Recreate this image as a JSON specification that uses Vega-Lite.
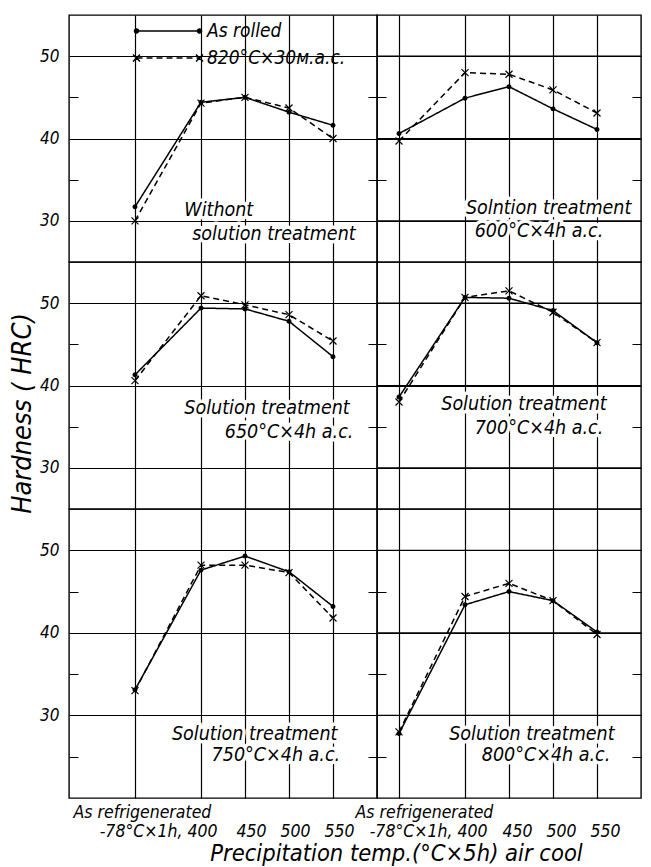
{
  "$schema": "https://vega.github.io/schema/vega-lite/v6.json",
  "background": "white",
  "padding": {"left": 7, "top": 14, "right": 9, "bottom": 4},
  "config": {
    "font": "DejaVu Sans Condensed",
    "view": {"stroke": "black", "strokeWidth": 1.4},
    "axis": {
      "labelFontStyle": "italic", "labelFontSize": 17, "labelColor": "black",
      "titleColor": "black", "titleFontStyle": "italic", "titleFontWeight": "normal",
      "gridColor": "black", "gridWidth": 1.2, "gridOpacity": 1, "ticks": false, "tickSize": 0,
      "domain": false, "labelFlush": false, "labelOverlap": false
    }
  },
  "datasets": {
    "hardness": [
      {"panel": "p1", "series": "As rolled", "step": "As refrigenerated", "xpos": 325, "hrc": 31.7},
      {"panel": "p1", "series": "As rolled", "step": "400", "xpos": 400, "hrc": 44.4},
      {"panel": "p1", "series": "As rolled", "step": "450", "xpos": 450, "hrc": 45.0},
      {"panel": "p1", "series": "As rolled", "step": "500", "xpos": 500, "hrc": 43.2},
      {"panel": "p1", "series": "As rolled", "step": "550", "xpos": 550, "hrc": 41.6},
      {"panel": "p1", "series": "820°C×30м.a.c.", "step": "As refrigenerated", "xpos": 325, "hrc": 30.0},
      {"panel": "p1", "series": "820°C×30м.a.c.", "step": "400", "xpos": 400, "hrc": 44.3},
      {"panel": "p1", "series": "820°C×30м.a.c.", "step": "450", "xpos": 450, "hrc": 45.0},
      {"panel": "p1", "series": "820°C×30м.a.c.", "step": "500", "xpos": 500, "hrc": 43.7},
      {"panel": "p1", "series": "820°C×30м.a.c.", "step": "550", "xpos": 550, "hrc": 40.0},

      {"panel": "p2", "series": "As rolled", "step": "As refrigenerated", "xpos": 325, "hrc": 40.6},
      {"panel": "p2", "series": "As rolled", "step": "400", "xpos": 400, "hrc": 44.9},
      {"panel": "p2", "series": "As rolled", "step": "450", "xpos": 450, "hrc": 46.3},
      {"panel": "p2", "series": "As rolled", "step": "500", "xpos": 500, "hrc": 43.6},
      {"panel": "p2", "series": "As rolled", "step": "550", "xpos": 550, "hrc": 41.1},
      {"panel": "p2", "series": "820°C×30м.a.c.", "step": "As refrigenerated", "xpos": 325, "hrc": 39.7},
      {"panel": "p2", "series": "820°C×30м.a.c.", "step": "400", "xpos": 400, "hrc": 48.0},
      {"panel": "p2", "series": "820°C×30м.a.c.", "step": "450", "xpos": 450, "hrc": 47.8},
      {"panel": "p2", "series": "820°C×30м.a.c.", "step": "500", "xpos": 500, "hrc": 45.9},
      {"panel": "p2", "series": "820°C×30м.a.c.", "step": "550", "xpos": 550, "hrc": 43.1},

      {"panel": "p3", "series": "As rolled", "step": "As refrigenerated", "xpos": 325, "hrc": 41.3},
      {"panel": "p3", "series": "As rolled", "step": "400", "xpos": 400, "hrc": 49.4},
      {"panel": "p3", "series": "As rolled", "step": "450", "xpos": 450, "hrc": 49.3},
      {"panel": "p3", "series": "As rolled", "step": "500", "xpos": 500, "hrc": 47.8},
      {"panel": "p3", "series": "As rolled", "step": "550", "xpos": 550, "hrc": 43.5},
      {"panel": "p3", "series": "820°C×30м.a.c.", "step": "As refrigenerated", "xpos": 325, "hrc": 40.6},
      {"panel": "p3", "series": "820°C×30м.a.c.", "step": "400", "xpos": 400, "hrc": 50.9},
      {"panel": "p3", "series": "820°C×30м.a.c.", "step": "450", "xpos": 450, "hrc": 49.8},
      {"panel": "p3", "series": "820°C×30м.a.c.", "step": "500", "xpos": 500, "hrc": 48.6},
      {"panel": "p3", "series": "820°C×30м.a.c.", "step": "550", "xpos": 550, "hrc": 45.4},

      {"panel": "p4", "series": "As rolled", "step": "As refrigenerated", "xpos": 325, "hrc": 38.6},
      {"panel": "p4", "series": "As rolled", "step": "400", "xpos": 400, "hrc": 50.7},
      {"panel": "p4", "series": "As rolled", "step": "450", "xpos": 450, "hrc": 50.6},
      {"panel": "p4", "series": "As rolled", "step": "500", "xpos": 500, "hrc": 49.1},
      {"panel": "p4", "series": "As rolled", "step": "550", "xpos": 550, "hrc": 45.2},
      {"panel": "p4", "series": "820°C×30м.a.c.", "step": "As refrigenerated", "xpos": 325, "hrc": 38.0},
      {"panel": "p4", "series": "820°C×30м.a.c.", "step": "400", "xpos": 400, "hrc": 50.7},
      {"panel": "p4", "series": "820°C×30м.a.c.", "step": "450", "xpos": 450, "hrc": 51.5},
      {"panel": "p4", "series": "820°C×30м.a.c.", "step": "500", "xpos": 500, "hrc": 48.9},
      {"panel": "p4", "series": "820°C×30м.a.c.", "step": "550", "xpos": 550, "hrc": 45.2},

      {"panel": "p5", "series": "As rolled", "step": "As refrigenerated", "xpos": 325, "hrc": 33.1},
      {"panel": "p5", "series": "As rolled", "step": "400", "xpos": 400, "hrc": 47.6},
      {"panel": "p5", "series": "As rolled", "step": "450", "xpos": 450, "hrc": 49.3},
      {"panel": "p5", "series": "As rolled", "step": "500", "xpos": 500, "hrc": 47.4},
      {"panel": "p5", "series": "As rolled", "step": "550", "xpos": 550, "hrc": 43.2},
      {"panel": "p5", "series": "820°C×30м.a.c.", "step": "As refrigenerated", "xpos": 325, "hrc": 33.0},
      {"panel": "p5", "series": "820°C×30м.a.c.", "step": "400", "xpos": 400, "hrc": 48.2},
      {"panel": "p5", "series": "820°C×30м.a.c.", "step": "450", "xpos": 450, "hrc": 48.2},
      {"panel": "p5", "series": "820°C×30м.a.c.", "step": "500", "xpos": 500, "hrc": 47.3},
      {"panel": "p5", "series": "820°C×30м.a.c.", "step": "550", "xpos": 550, "hrc": 41.8},

      {"panel": "p6", "series": "As rolled", "step": "As refrigenerated", "xpos": 325, "hrc": 27.8},
      {"panel": "p6", "series": "As rolled", "step": "400", "xpos": 400, "hrc": 43.4},
      {"panel": "p6", "series": "As rolled", "step": "450", "xpos": 450, "hrc": 45.0},
      {"panel": "p6", "series": "As rolled", "step": "500", "xpos": 500, "hrc": 43.9},
      {"panel": "p6", "series": "As rolled", "step": "550", "xpos": 550, "hrc": 40.1},
      {"panel": "p6", "series": "820°C×30м.a.c.", "step": "As refrigenerated", "xpos": 325, "hrc": 28.0},
      {"panel": "p6", "series": "820°C×30м.a.c.", "step": "400", "xpos": 400, "hrc": 44.4},
      {"panel": "p6", "series": "820°C×30м.a.c.", "step": "450", "xpos": 450, "hrc": 46.0},
      {"panel": "p6", "series": "820°C×30м.a.c.", "step": "500", "xpos": 500, "hrc": 43.9},
      {"panel": "p6", "series": "820°C×30м.a.c.", "step": "550", "xpos": 550, "hrc": 39.8}
    ],
    "notes": [
      {"panel": "p1", "text": "Withont", "xpos": 381, "hrc": 31.3},
      {"panel": "p1", "text": "solution treatment", "xpos": 390, "hrc": 28.4},
      {"panel": "p2", "text": "Solntion treatment", "xpos": 401, "hrc": 31.6},
      {"panel": "p2", "text": "600°C×4h a.c.", "xpos": 411, "hrc": 28.8},
      {"panel": "p3", "text": "Solution treatment", "xpos": 381, "hrc": 37.3},
      {"panel": "p3", "text": "650°C×4h a.c.", "xpos": 427, "hrc": 34.3},
      {"panel": "p4", "text": "Solution treatment", "xpos": 373, "hrc": 37.7},
      {"panel": "p4", "text": "700°C×4h a.c.", "xpos": 411, "hrc": 34.8},
      {"panel": "p5", "text": "Solution treatment", "xpos": 367, "hrc": 27.8},
      {"panel": "p5", "text": "750°C×4h a.c.", "xpos": 412, "hrc": 25.2},
      {"panel": "p6", "text": "Solution treatment", "xpos": 382, "hrc": 27.8},
      {"panel": "p6", "text": "800°C×4h a.c.", "xpos": 419, "hrc": 25.2}
    ],
    "gridlines": [
      {"hrc": 30}, {"hrc": 40}, {"hrc": 50}
    ]
  },
  "columns": 2,
  "spacing": 0,
  "bounds": "flush",
  "align": "each",
  "resolve": {"legend": {"strokeDash": "independent"}},
  "concat": [
    {
      "width": 308, "height": 247,
      "layer": [
        {
          "data": {"name": "hardness"},
          "transform": [{"filter": "datum.panel == 'p1'"}],
          "mark": {"type": "line", "stroke": "black", "strokeWidth": 1.5},
          "encoding": {
            "x": {"field": "xpos", "type": "quantitative", "scale": {"domain": [250, 600], "nice": false},
                  "axis": {"values": [325, 400, 450, 500, 550], "labels": false, "grid": true, "title": null}},
            "y": {"field": "hrc", "type": "quantitative", "scale": {"domain": [25, 55], "nice": false},
                  "axis": {"values": [30, 35, 40, 45, 50], "labelExpr": "datum.value % 10 == 0 ? datum.label : ''", "grid": true,
                           "gridDash": {"condition": {"test": "datum.value % 10 == 5", "value": [9, 290, 9, 0]}, "value": [1, 0]},
                           "labelPadding": 10, "title": null}},
            "strokeDash": {"field": "series", "type": "nominal",
                           "scale": {"domain": ["As rolled", "820°C×30м.a.c."], "range": [[1, 0], [6, 4]]},
                           "legend": {"orient": "none", "legendX": 88, "legendY": 5, "title": null, "padding": 0,
                                      "symbolType": "M-3.15,0L3.15,0", "symbolSize": 400, "symbolStrokeWidth": 1.5,
                                      "symbolStrokeColor": "black", "symbolFillColor": "black",
                                      "labelFontSize": 19, "labelFontStyle": "italic", "labelColor": "black",
                                      "labelOffset": 28, "rowPadding": 6,
                                      "encode": {"symbols": {"update": {
                                        "shape": {"signal": "datum.value == 'As rolled' ? 'M-3.15,0L3.15,0M-2.95,0A0.2,0.2,0,1,1,-3.35,0A0.2,0.2,0,1,1,-2.95,0ZM3.35,0A0.2,0.2,0,1,1,2.95,0A0.2,0.2,0,1,1,3.35,0Z' : 'M-3.15,0L3.15,0M-3.15,0L-2.8,-0.35M-3.15,0L-2.8,0.35M-3.15,0L-3.5,-0.35M-3.15,0L-3.5,0.35M3.15,0L3.5,-0.35M3.15,0L3.5,0.35M3.15,0L2.8,-0.35M3.15,0L2.8,0.35'"},
                                        "fill": {"value": "black"}, "stroke": {"value": "black"}}}}}}
          }
        },
        {
          "data": {"name": "hardness"},
          "transform": [{"filter": "datum.panel == 'p1'"}],
          "mark": {"type": "point", "stroke": "black", "strokeWidth": 1.2, "opacity": 1},
          "encoding": {
            "x": {"field": "xpos", "type": "quantitative"},
            "y": {"field": "hrc", "type": "quantitative"},
            "shape": {"field": "series", "type": "nominal", "scale": {"domain": ["As rolled", "820°C×30м.a.c."], "range": ["circle", "M0,0L1,1M0,0L-1,-1M0,0L1,-1M0,0L-1,1"]}, "legend": null},
            "fill": {"field": "series", "type": "nominal", "scale": {"domain": ["As rolled", "820°C×30м.a.c."], "range": ["black", "transparent"]}, "legend": null},
            "size": {"field": "series", "type": "ordinal", "scale": {"domain": ["As rolled", "820°C×30м.a.c."], "range": [14, 49]}, "legend": null}
          }
        },
        {
          "data": {"name": "notes"},
          "transform": [{"filter": "datum.panel == 'p1'"}],
          "mark": {"type": "text", "align": "left", "baseline": "middle", "fontSize": 19.5, "fontStyle": "italic", "fill": "white", "stroke": "white", "strokeWidth": 7, "strokeJoin": "round"},
          "encoding": {"x": {"field": "xpos", "type": "quantitative"}, "y": {"field": "hrc", "type": "quantitative"}, "text": {"field": "text"}}
        },
        {
          "data": {"name": "notes"},
          "transform": [{"filter": "datum.panel == 'p1'"}],
          "mark": {"type": "text", "align": "left", "baseline": "middle", "fontSize": 19.5, "fontStyle": "italic", "fill": "black"},
          "encoding": {"x": {"field": "xpos", "type": "quantitative"}, "y": {"field": "hrc", "type": "quantitative"}, "text": {"field": "text"}}
        }
      ]
    },
    {
      "width": 264, "height": 247,
      "layer": [
        {
          "data": {"name": "hardness"},
          "transform": [{"filter": "datum.panel == 'p2'"}],
          "mark": {"type": "line", "stroke": "black", "strokeWidth": 1.5},
          "encoding": {
            "x": {"field": "xpos", "type": "quantitative", "scale": {"domain": [300, 600], "nice": false},
                  "axis": {"values": [325, 400, 450, 500, 550], "labels": false, "grid": true, "title": null}},
            "y": {"field": "hrc", "type": "quantitative", "scale": {"domain": [25, 55], "nice": false},
                  "axis": {"values": [30, 35, 40, 45, 50], "labelExpr": "''", "labelPadding": 0, "grid": true,
                           "gridDash": {"condition": {"test": "datum.value % 10 == 5", "value": [9, 246, 9, 0]}, "value": [1, 0]},
                           "title": null}},
            "strokeDash": {"field": "series", "type": "nominal", "scale": {"domain": ["As rolled", "820°C×30м.a.c."], "range": [[1, 0], [6, 4]]}, "legend": null}
          }
        },
        {
          "data": {"name": "gridlines"},
          "mark": {"type": "rule", "stroke": "black", "strokeWidth": 1.2},
          "encoding": {"y": {"field": "hrc", "type": "quantitative"}}
        },
        {
          "data": {"name": "hardness"},
          "transform": [{"filter": "datum.panel == 'p2'"}],
          "mark": {"type": "point", "stroke": "black", "strokeWidth": 1.2, "opacity": 1},
          "encoding": {
            "x": {"field": "xpos", "type": "quantitative"},
            "y": {"field": "hrc", "type": "quantitative"},
            "shape": {"field": "series", "type": "nominal", "scale": {"domain": ["As rolled", "820°C×30м.a.c."], "range": ["circle", "M0,0L1,1M0,0L-1,-1M0,0L1,-1M0,0L-1,1"]}, "legend": null},
            "fill": {"field": "series", "type": "nominal", "scale": {"domain": ["As rolled", "820°C×30м.a.c."], "range": ["black", "transparent"]}, "legend": null},
            "size": {"field": "series", "type": "ordinal", "scale": {"domain": ["As rolled", "820°C×30м.a.c."], "range": [14, 49]}, "legend": null}
          }
        },
        {
          "data": {"name": "notes"},
          "transform": [{"filter": "datum.panel == 'p2'"}],
          "mark": {"type": "text", "align": "left", "baseline": "middle", "fontSize": 19.5, "fontStyle": "italic", "fill": "white", "stroke": "white", "strokeWidth": 7, "strokeJoin": "round"},
          "encoding": {"x": {"field": "xpos", "type": "quantitative"}, "y": {"field": "hrc", "type": "quantitative"}, "text": {"field": "text"}}
        },
        {
          "data": {"name": "notes"},
          "transform": [{"filter": "datum.panel == 'p2'"}],
          "mark": {"type": "text", "align": "left", "baseline": "middle", "fontSize": 19.5, "fontStyle": "italic", "fill": "black"},
          "encoding": {"x": {"field": "xpos", "type": "quantitative"}, "y": {"field": "hrc", "type": "quantitative"}, "text": {"field": "text"}}
        }
      ]
    },
    {
      "width": 308, "height": 247,
      "layer": [
        {
          "data": {"name": "hardness"},
          "transform": [{"filter": "datum.panel == 'p3'"}],
          "mark": {"type": "line", "stroke": "black", "strokeWidth": 1.5},
          "encoding": {
            "x": {"field": "xpos", "type": "quantitative", "scale": {"domain": [250, 600], "nice": false},
                  "axis": {"values": [325, 400, 450, 500, 550], "labels": false, "grid": true, "title": null}},
            "y": {"field": "hrc", "type": "quantitative", "scale": {"domain": [25, 55], "nice": false},
                  "axis": {"values": [30, 35, 40, 45, 50], "labelExpr": "datum.value % 10 == 0 ? datum.label : ''", "grid": true,
                           "gridDash": {"condition": {"test": "datum.value % 10 == 5", "value": [9, 290, 9, 0]}, "value": [1, 0]},
                           "labelPadding": 10,
                           "title": "Hardness ( HRC)", "titleY": 151, "titleFontSize": 27, "titlePadding": 3}},
            "strokeDash": {"field": "series", "type": "nominal", "scale": {"domain": ["As rolled", "820°C×30м.a.c."], "range": [[1, 0], [6, 4]]}, "legend": null}
          }
        },
        {
          "data": {"name": "hardness"},
          "transform": [{"filter": "datum.panel == 'p3'"}],
          "mark": {"type": "point", "stroke": "black", "strokeWidth": 1.2, "opacity": 1},
          "encoding": {
            "x": {"field": "xpos", "type": "quantitative"},
            "y": {"field": "hrc", "type": "quantitative"},
            "shape": {"field": "series", "type": "nominal", "scale": {"domain": ["As rolled", "820°C×30м.a.c."], "range": ["circle", "M0,0L1,1M0,0L-1,-1M0,0L1,-1M0,0L-1,1"]}, "legend": null},
            "fill": {"field": "series", "type": "nominal", "scale": {"domain": ["As rolled", "820°C×30м.a.c."], "range": ["black", "transparent"]}, "legend": null},
            "size": {"field": "series", "type": "ordinal", "scale": {"domain": ["As rolled", "820°C×30м.a.c."], "range": [14, 49]}, "legend": null}
          }
        },
        {
          "data": {"name": "notes"},
          "transform": [{"filter": "datum.panel == 'p3'"}],
          "mark": {"type": "text", "align": "left", "baseline": "middle", "fontSize": 19.5, "fontStyle": "italic", "fill": "white", "stroke": "white", "strokeWidth": 7, "strokeJoin": "round"},
          "encoding": {"x": {"field": "xpos", "type": "quantitative"}, "y": {"field": "hrc", "type": "quantitative"}, "text": {"field": "text"}}
        },
        {
          "data": {"name": "notes"},
          "transform": [{"filter": "datum.panel == 'p3'"}],
          "mark": {"type": "text", "align": "left", "baseline": "middle", "fontSize": 19.5, "fontStyle": "italic", "fill": "black"},
          "encoding": {"x": {"field": "xpos", "type": "quantitative"}, "y": {"field": "hrc", "type": "quantitative"}, "text": {"field": "text"}}
        }
      ]
    },
    {
      "width": 264, "height": 247,
      "layer": [
        {
          "data": {"name": "hardness"},
          "transform": [{"filter": "datum.panel == 'p4'"}],
          "mark": {"type": "line", "stroke": "black", "strokeWidth": 1.5},
          "encoding": {
            "x": {"field": "xpos", "type": "quantitative", "scale": {"domain": [300, 600], "nice": false},
                  "axis": {"values": [325, 400, 450, 500, 550], "labels": false, "grid": true, "title": null}},
            "y": {"field": "hrc", "type": "quantitative", "scale": {"domain": [25, 55], "nice": false},
                  "axis": {"values": [30, 35, 40, 45, 50], "labelExpr": "''", "labelPadding": 0, "grid": true,
                           "gridDash": {"condition": {"test": "datum.value % 10 == 5", "value": [9, 246, 9, 0]}, "value": [1, 0]},
                           "title": null}},
            "strokeDash": {"field": "series", "type": "nominal", "scale": {"domain": ["As rolled", "820°C×30м.a.c."], "range": [[1, 0], [6, 4]]}, "legend": null}
          }
        },
        {
          "data": {"name": "gridlines"},
          "mark": {"type": "rule", "stroke": "black", "strokeWidth": 1.2},
          "encoding": {"y": {"field": "hrc", "type": "quantitative"}}
        },
        {
          "data": {"name": "hardness"},
          "transform": [{"filter": "datum.panel == 'p4'"}],
          "mark": {"type": "point", "stroke": "black", "strokeWidth": 1.2, "opacity": 1},
          "encoding": {
            "x": {"field": "xpos", "type": "quantitative"},
            "y": {"field": "hrc", "type": "quantitative"},
            "shape": {"field": "series", "type": "nominal", "scale": {"domain": ["As rolled", "820°C×30м.a.c."], "range": ["circle", "M0,0L1,1M0,0L-1,-1M0,0L1,-1M0,0L-1,1"]}, "legend": null},
            "fill": {"field": "series", "type": "nominal", "scale": {"domain": ["As rolled", "820°C×30м.a.c."], "range": ["black", "transparent"]}, "legend": null},
            "size": {"field": "series", "type": "ordinal", "scale": {"domain": ["As rolled", "820°C×30м.a.c."], "range": [14, 49]}, "legend": null}
          }
        },
        {
          "data": {"name": "notes"},
          "transform": [{"filter": "datum.panel == 'p4'"}],
          "mark": {"type": "text", "align": "left", "baseline": "middle", "fontSize": 19.5, "fontStyle": "italic", "fill": "white", "stroke": "white", "strokeWidth": 7, "strokeJoin": "round"},
          "encoding": {"x": {"field": "xpos", "type": "quantitative"}, "y": {"field": "hrc", "type": "quantitative"}, "text": {"field": "text"}}
        },
        {
          "data": {"name": "notes"},
          "transform": [{"filter": "datum.panel == 'p4'"}],
          "mark": {"type": "text", "align": "left", "baseline": "middle", "fontSize": 19.5, "fontStyle": "italic", "fill": "black"},
          "encoding": {"x": {"field": "xpos", "type": "quantitative"}, "y": {"field": "hrc", "type": "quantitative"}, "text": {"field": "text"}}
        }
      ]
    },
    {
      "width": 308, "height": 289,
      "layer": [
        {
          "data": {"name": "hardness"},
          "transform": [{"filter": "datum.panel == 'p5'"}],
          "mark": {"type": "line", "stroke": "black", "strokeWidth": 1.5},
          "encoding": {
            "x": {"field": "xpos", "type": "quantitative", "scale": {"domain": [250, 600], "nice": false},
                  "axis": {"values": [325, 400, 450, 500, 550], "grid": true,
                           "labelExpr": "datum.value == 325 ? 'As refrigenerated' : datum.value == 400 ? ['', '-78°C×1h, 400'] : ['', datum.label]",
                           "labelAlign": {"condition": [{"test": "datum.value == 325", "value": "left"}, {"test": "datum.value == 400", "value": "right"}], "value": "center"},
                           "labelOffset": {"condition": [{"test": "datum.value == 325", "value": -62}, {"test": "datum.value == 400", "value": 16}], "value": 6},
                           "labelPadding": 5, "labelFontSize": 17.5, "labelLineHeight": 19,
                           "title": "Precipitation temp.(°C×5h) air cool", "titleX": 327, "titleFontSize": 23.5, "titlePadding": 2}},
            "y": {"field": "hrc", "type": "quantitative", "scale": {"domain": [20, 55], "nice": false},
                  "axis": {"values": [25, 30, 35, 40, 45, 50], "labelExpr": "datum.value % 10 == 0 ? datum.label : ''", "grid": true,
                           "gridDash": {"condition": {"test": "datum.value % 10 == 5", "value": [9, 290, 9, 0]}, "value": [1, 0]},
                           "labelPadding": 10, "title": null}},
            "strokeDash": {"field": "series", "type": "nominal", "scale": {"domain": ["As rolled", "820°C×30м.a.c."], "range": [[1, 0], [6, 4]]}, "legend": null}
          }
        },
        {
          "data": {"name": "hardness"},
          "transform": [{"filter": "datum.panel == 'p5'"}],
          "mark": {"type": "point", "stroke": "black", "strokeWidth": 1.2, "opacity": 1},
          "encoding": {
            "x": {"field": "xpos", "type": "quantitative"},
            "y": {"field": "hrc", "type": "quantitative"},
            "shape": {"field": "series", "type": "nominal", "scale": {"domain": ["As rolled", "820°C×30м.a.c."], "range": ["circle", "M0,0L1,1M0,0L-1,-1M0,0L1,-1M0,0L-1,1"]}, "legend": null},
            "fill": {"field": "series", "type": "nominal", "scale": {"domain": ["As rolled", "820°C×30м.a.c."], "range": ["black", "transparent"]}, "legend": null},
            "size": {"field": "series", "type": "ordinal", "scale": {"domain": ["As rolled", "820°C×30м.a.c."], "range": [14, 49]}, "legend": null}
          }
        },
        {
          "data": {"name": "notes"},
          "transform": [{"filter": "datum.panel == 'p5'"}],
          "mark": {"type": "text", "align": "left", "baseline": "middle", "fontSize": 19.5, "fontStyle": "italic", "fill": "white", "stroke": "white", "strokeWidth": 7, "strokeJoin": "round"},
          "encoding": {"x": {"field": "xpos", "type": "quantitative"}, "y": {"field": "hrc", "type": "quantitative"}, "text": {"field": "text"}}
        },
        {
          "data": {"name": "notes"},
          "transform": [{"filter": "datum.panel == 'p5'"}],
          "mark": {"type": "text", "align": "left", "baseline": "middle", "fontSize": 19.5, "fontStyle": "italic", "fill": "black"},
          "encoding": {"x": {"field": "xpos", "type": "quantitative"}, "y": {"field": "hrc", "type": "quantitative"}, "text": {"field": "text"}}
        }
      ]
    },
    {
      "width": 264, "height": 289,
      "layer": [
        {
          "data": {"name": "hardness"},
          "transform": [{"filter": "datum.panel == 'p6'"}],
          "mark": {"type": "line", "stroke": "black", "strokeWidth": 1.5},
          "encoding": {
            "x": {"field": "xpos", "type": "quantitative", "scale": {"domain": [300, 600], "nice": false},
                  "axis": {"values": [325, 400, 450, 500, 550], "grid": true,
                           "labelExpr": "datum.value == 325 ? 'As refrigenerated' : datum.value == 400 ? ['', '-78°C×1h, 400'] : ['', datum.label]",
                           "labelAlign": {"condition": [{"test": "datum.value == 325", "value": "left"}, {"test": "datum.value == 400", "value": "right"}], "value": "center"},
                           "labelOffset": {"condition": [{"test": "datum.value == 325", "value": -44}, {"test": "datum.value == 400", "value": 22}], "value": 8},
                           "labelPadding": 5, "labelFontSize": 17.5, "labelLineHeight": 19, "title": null}},
            "y": {"field": "hrc", "type": "quantitative", "scale": {"domain": [20, 55], "nice": false},
                  "axis": {"values": [25, 30, 35, 40, 45, 50], "labelExpr": "''", "labelPadding": 0, "grid": true,
                           "gridDash": {"condition": {"test": "datum.value % 10 == 5", "value": [9, 246, 9, 0]}, "value": [1, 0]},
                           "title": null}},
            "strokeDash": {"field": "series", "type": "nominal", "scale": {"domain": ["As rolled", "820°C×30м.a.c."], "range": [[1, 0], [6, 4]]}, "legend": null}
          }
        },
        {
          "data": {"name": "gridlines"},
          "mark": {"type": "rule", "stroke": "black", "strokeWidth": 1.2},
          "encoding": {"y": {"field": "hrc", "type": "quantitative"}}
        },
        {
          "data": {"name": "hardness"},
          "transform": [{"filter": "datum.panel == 'p6'"}],
          "mark": {"type": "point", "stroke": "black", "strokeWidth": 1.2, "opacity": 1},
          "encoding": {
            "x": {"field": "xpos", "type": "quantitative"},
            "y": {"field": "hrc", "type": "quantitative"},
            "shape": {"field": "series", "type": "nominal", "scale": {"domain": ["As rolled", "820°C×30м.a.c."], "range": ["circle", "M0,0L1,1M0,0L-1,-1M0,0L1,-1M0,0L-1,1"]}, "legend": null},
            "fill": {"field": "series", "type": "nominal", "scale": {"domain": ["As rolled", "820°C×30м.a.c."], "range": ["black", "transparent"]}, "legend": null},
            "size": {"field": "series", "type": "ordinal", "scale": {"domain": ["As rolled", "820°C×30м.a.c."], "range": [14, 49]}, "legend": null}
          }
        },
        {
          "data": {"name": "notes"},
          "transform": [{"filter": "datum.panel == 'p6'"}],
          "mark": {"type": "text", "align": "left", "baseline": "middle", "fontSize": 19.5, "fontStyle": "italic", "fill": "white", "stroke": "white", "strokeWidth": 7, "strokeJoin": "round"},
          "encoding": {"x": {"field": "xpos", "type": "quantitative"}, "y": {"field": "hrc", "type": "quantitative"}, "text": {"field": "text"}}
        },
        {
          "data": {"name": "notes"},
          "transform": [{"filter": "datum.panel == 'p6'"}],
          "mark": {"type": "text", "align": "left", "baseline": "middle", "fontSize": 19.5, "fontStyle": "italic", "fill": "black"},
          "encoding": {"x": {"field": "xpos", "type": "quantitative"}, "y": {"field": "hrc", "type": "quantitative"}, "text": {"field": "text"}}
        }
      ]
    }
  ]
}
